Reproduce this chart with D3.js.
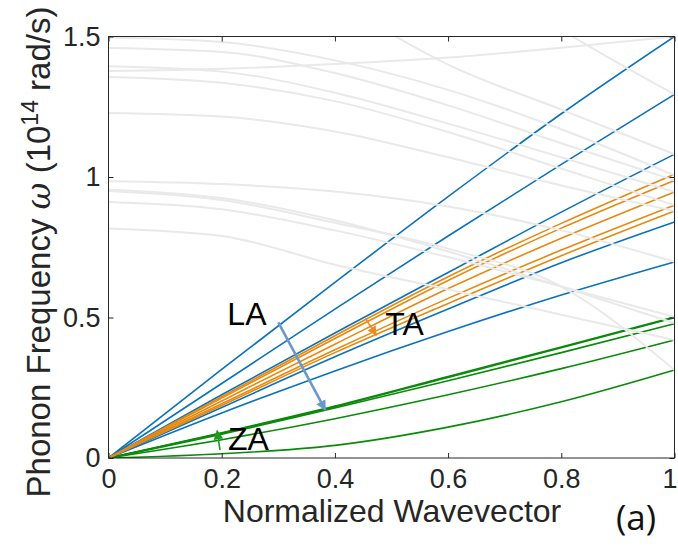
<!DOCTYPE html>
<html><head><meta charset="utf-8">
<script src="https://cdn.jsdelivr.net/npm/d3@7"></script>
<style>body{margin:0;background:#fff}</style>
</head><body>
<svg id="c" width="678" height="546"></svg>
<script>
// ---------- data ----------
const waveX = [0, 0.2, 0.4, 0.6, 0.8, 1.0];

const grayBranches = [
  [1.496, 1.480, 1.415, 1.310, 1.170, 1.006],
  [1.459, 1.445, 1.370, 1.255, 1.120, 0.988],
  [1.377, 1.385, 1.402, 1.425, 1.460, 1.500],
  [1.394, 1.375, 1.300, 1.190, 1.070, 0.947],
  [1.356, 1.335, 1.270, 1.160, 1.030, 0.900],
  [1.228, 1.215, 1.162, 1.070, 0.970, 0.879],
  [1.950, 1.900, 1.630, 1.400, 1.240, 1.081],
  [2.300, 2.200, 2.050, 1.800, 1.525, 1.294],
  [0.985, 0.975, 0.948, 0.895, 0.810, 0.698],
  [0.955, 0.925, 0.846, 0.735, 0.610, 0.480],
  [0.950, 0.918, 0.837, 0.745, 0.610, 0.313],
  [0.911, 0.885, 0.810, 0.715, 0.610, 0.502],
  [0.817, 0.790, 0.688, 0.600, 0.510, 0.420]
];

const laBranches = [
  [0, 0.315, 0.625, 0.930, 1.225, 1.500],
  [0, 0.265, 0.530, 0.790, 1.045, 1.294],
  [0, 0.225, 0.445, 0.660, 0.875, 1.081],
  [0, 0.180, 0.360, 0.530, 0.695, 0.840],
  [0, 0.160, 0.310, 0.450, 0.580, 0.698]
];

const taBranches = [
  [0, 0.218, 0.435, 0.645, 0.835, 1.010],
  [0, 0.213, 0.425, 0.632, 0.818, 0.988],
  [0, 0.203, 0.405, 0.603, 0.782, 0.947],
  [0, 0.193, 0.385, 0.568, 0.740, 0.900],
  [0, 0.187, 0.375, 0.550, 0.720, 0.879]
];

const zaBranches = [
  [0, 0.090, 0.185, 0.290, 0.395, 0.502],
  [0, 0.088, 0.182, 0.287, 0.392, 0.499],
  [0, 0.085, 0.178, 0.275, 0.375, 0.478],
  [0, 0.065, 0.140, 0.225, 0.318, 0.420],
  [0, 0.015, 0.045, 0.110, 0.200, 0.313]
];

const xTicks = [0, 0.2, 0.4, 0.6, 0.8, 1];
const xTickLabels = ["0", "0.2", "0.4", "0.6", "0.8", "1"];
const yTicks = [0, 0.5, 1, 1.5];
const yTickLabels = ["0", "0.5", "1", "1.5"];

const modeLabels = ["LA", "TA", "ZA"];
const modeLabelAt = [[0.210, 0.473], [0.489, 0.437], [0.211, 0.028]];
const modeArrows = [
  [[0.300, 0.483], [0.383, 0.171]],
  [[0.454, 0.497], [0.473, 0.437]],
  [[0.197, 0.028], [0.192, 0.097]]
];

// ---------- chart ----------
const svg = d3.select("#c");
const W = 678, H = 546;
const x = d3.scaleLinear().domain([0, 1]).range([108.5, 674.5]);
const y = d3.scaleLinear().domain([0, 1.5]).range([458, 36.5]);
const font = "'Liberation Sans', Arial, Helvetica, sans-serif";
const axisCol = "#262626";

svg.append("rect").attr("width", W).attr("height", H).attr("fill", "#fff");

const defs = svg.append("defs");
defs.append("clipPath").attr("id", "plotclip").append("rect")
  .attr("x", x(0)).attr("y", y(1.5)).attr("width", x(1) - x(0)).attr("height", y(0) - y(1.5));

const line = d3.line()
  .x((d, i) => x(waveX[i]))
  .y(d => y(d))
  .curve(d3.curveMonotoneX);

const plot = svg.append("g").attr("clip-path", "url(#plotclip)");

function drawSet(set, color, width) {
  plot.append("g").selectAll("path").data(set).join("path")
    .attr("d", line)
    .attr("fill", "none")
    .attr("stroke", color)
    .attr("stroke-width", width)
    .attr("stroke-linejoin", "round");
}
drawSet(zaBranches, "#0a8a0a", 1.6);
drawSet(laBranches, "#0a72bd", 1.6);
drawSet(taBranches, "#e8890f", 1.6);
drawSet(grayBranches, "#e9e9e9", 2);

// ---------- axes ----------
const gx = svg.append("g").attr("transform", `translate(0,${y(0)})`)
  .call(d3.axisBottom(x).tickValues(xTicks).tickFormat((d, i) => xTickLabels[i])
    .tickSizeInner(-5).tickSizeOuter(0).tickPadding(11));
const gy = svg.append("g").attr("transform", `translate(${x(0)},0)`)
  .call(d3.axisLeft(y).tickValues(yTicks).tickFormat((d, i) => yTickLabels[i])
    .tickSizeInner(-5).tickSizeOuter(0).tickPadding(8));
const gxt = svg.append("g").attr("transform", `translate(0,${y(1.5)})`)
  .call(d3.axisTop(x).tickValues(xTicks).tickFormat("").tickSizeInner(-5).tickSizeOuter(0));
const gyr = svg.append("g").attr("transform", `translate(${x(1)},0)`)
  .call(d3.axisRight(y).tickValues(yTicks).tickFormat("").tickSizeInner(-5).tickSizeOuter(0));

[gx, gy, gxt, gyr].forEach(g => {
  g.select(".domain").remove();
  g.selectAll("line").attr("stroke", axisCol).attr("stroke-width", 1);
  g.selectAll("text").attr("fill", axisCol).style("font-family", font).style("font-size", "27px");
});
// keep the last x tick label inside the canvas
gx.selectAll(".tick text").filter(d => d === 1).attr("dx", -5);

svg.append("rect")
  .attr("x", x(0)).attr("y", y(1.5)).attr("width", x(1) - x(0)).attr("height", y(0) - y(1.5))
  .attr("fill", "none").attr("stroke", axisCol).attr("stroke-width", 1);

// axis labels
svg.append("text")
  .attr("x", 392).attr("y", 522).attr("text-anchor", "middle")
  .style("font-family", font).style("font-size", "32px").attr("fill", axisCol)
  .text("Normalized Wavevector");

const yl = svg.append("text")
  .attr("transform", "translate(50,252) rotate(-90)")
  .attr("text-anchor", "middle")
  .style("font-family", font).style("font-size", "33px").attr("fill", axisCol);
yl.append("tspan").text("Phonon Frequency ");
yl.append("tspan").style("font-family", "'DejaVu Serif', 'Liberation Serif', serif").style("font-style", "italic").text("ω");
yl.append("tspan").text(" (10");
yl.append("tspan").attr("dy", -12).style("font-size", "23px").text("14");
yl.append("tspan").attr("dy", 12).text(" rad/s)");

// panel tag
svg.append("text").attr("x", 616).attr("y", 530)
  .style("font-family", "'Open Sans', 'Noto Sans', sans-serif").style("font-size", "35px").attr("fill", "#111")
  .text("(a)");

// ---------- annotations ----------
const arrowCols = ["#6b98cc", "#ee8a24", "#1e9a1e"];
const arrowW = [2.6, 1.6, 1.6];
arrowCols.forEach((c, i) => {
  defs.append("marker").attr("id", "ah" + i)
    .attr("viewBox", "0 0 10 10").attr("refX", 9).attr("refY", 5)
    .attr("markerWidth", i === 0 ? 4 : 6).attr("markerHeight", i === 0 ? 4 : 6)
    .attr("markerUnits", "strokeWidth")
    .attr("orient", "auto")
    .append("path").attr("d", "M0,0 L10,5 L0,10 z").attr("fill", c);
});
svg.append("g").selectAll("line").data(modeArrows).join("line")
  .attr("x1", d => x(d[0][0])).attr("y1", d => y(d[0][1]))
  .attr("x2", d => x(d[1][0])).attr("y2", d => y(d[1][1]))
  .attr("stroke", (d, i) => arrowCols[i])
  .attr("stroke-width", (d, i) => arrowW[i])
  .attr("marker-end", (d, i) => `url(#ah${i})`);

svg.append("g").selectAll("text").data(modeLabels).join("text")
  .attr("x", (d, i) => x(modeLabelAt[i][0]))
  .attr("y", (d, i) => y(modeLabelAt[i][1]))
  .style("font-family", font).style("font-size", "32px").attr("fill", "#000")
  .text(d => d);
</script>
</body></html>
